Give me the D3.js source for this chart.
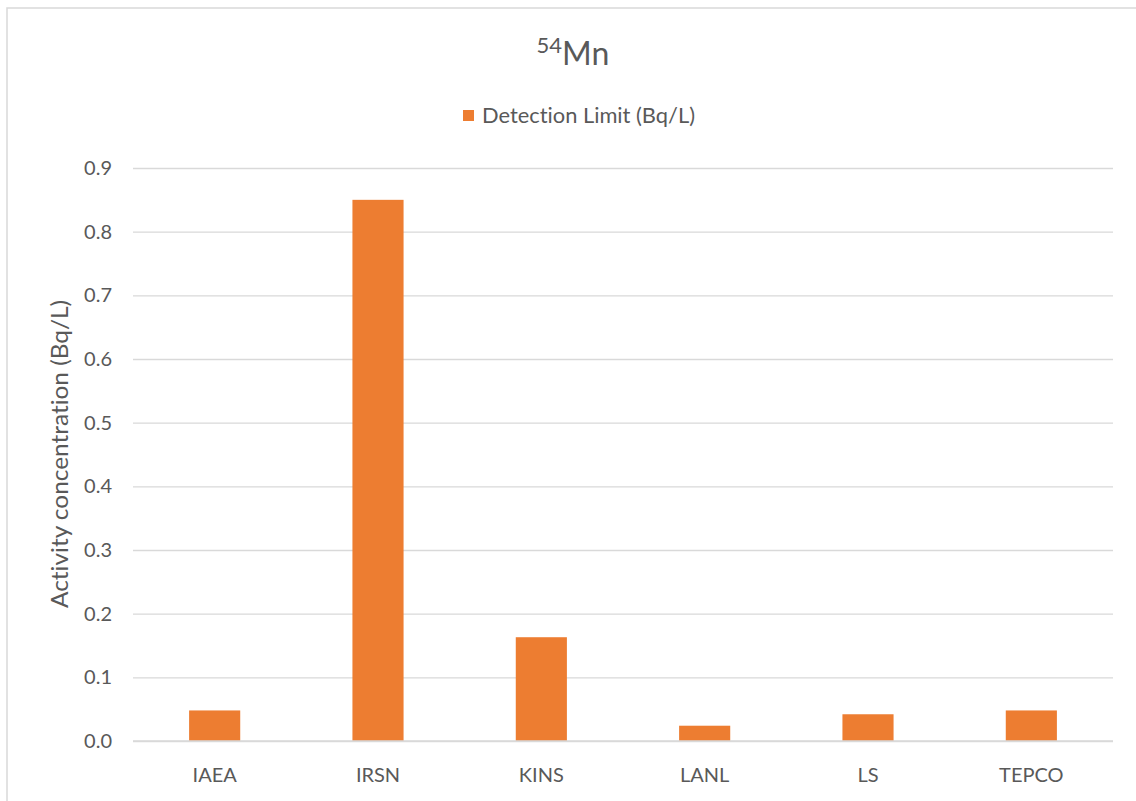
<!DOCTYPE html>
<html>
<head>
<meta charset="utf-8">
<script src="https://cdn.jsdelivr.net/npm/d3@7"></script>
<style>
  html, body { margin: 0; padding: 0; background: #fff; }
  svg { display: block; }
  text { font-family: Lato, "Open Sans", sans-serif; fill: #595959; font-variant-ligatures: none; }
</style>
</head>
<body>
<svg id="chart" width="1136" height="801"></svg>
<script>
// Detection limits of 54Mn by laboratory
const labs = ["IAEA", "IRSN", "KINS", "LANL", "LS", "TEPCO"];
const detectionLimit = [0.048, 0.85, 0.163, 0.024, 0.042, 0.048];
const yTicks = [0, 0.1, 0.2, 0.3, 0.4, 0.5, 0.6, 0.7, 0.8, 0.9];
const seriesName = "Detection Limit (Bq/L)";
const yTitle = "Activity concentration (Bq/L)";

const svg = d3.select("#chart");
const W = 1136, H = 801;
const plot = { left: 133, right: 1113, top: 168, bottom: 741 };
const labelSize = 20;

// Outer chart frame
svg.append("rect")
  .attr("x", 7).attr("y", 8)
  .attr("width", W + 10).attr("height", H + 10)
  .attr("fill", "#fff").attr("stroke", "#d9d9d9").attr("stroke-width", 1.5);

const x = d3.scaleBand().domain(labs).range([plot.left, plot.right])
  .paddingInner(0.687).paddingOuter(0.3435);
const y = d3.scaleLinear().domain([0, 0.9]).range([plot.bottom, plot.top]);

// Horizontal gridlines
svg.append("g")
  .attr("transform", `translate(${plot.left},0)`)
  .call(d3.axisLeft(y).tickValues(yTicks).tickSize(-(plot.right - plot.left)).tickFormat(""))
  .call(g => g.select(".domain").remove())
  .call(g => g.selectAll("line").attr("stroke", "#d9d9d9").attr("stroke-width", 1.3));

// Y tick labels
svg.append("g")
  .attr("transform", `translate(${plot.left - 21},0)`)
  .call(d3.axisLeft(y).tickValues(yTicks).tickSize(0).tickPadding(0).tickFormat(d3.format(".1f")))
  .call(g => g.select(".domain").remove())
  .call(g => g.selectAll("text")
    .attr("font-size", labelSize).attr("fill", "#595959")
    .style("font-family", "Lato, sans-serif"));

// Bars
svg.append("g").selectAll("rect")
  .data(labs.map((l, i) => ({ lab: l, v: detectionLimit[i] })))
  .join("rect")
  .attr("x", d => x(d.lab))
  .attr("width", x.bandwidth())
  .attr("y", d => y(d.v))
  .attr("height", d => y(0) - y(d.v))
  .attr("fill", "#ed7d31");

// Baseline
svg.append("line")
  .attr("x1", plot.left).attr("x2", plot.right)
  .attr("y1", y(0)).attr("y2", y(0))
  .attr("stroke", "#d9d9d9").attr("stroke-width", 1.3);

// X category labels
svg.append("g")
  .attr("transform", `translate(0,${plot.bottom + 27})`)
  .call(d3.axisBottom(x).tickSize(0).tickPadding(0))
  .call(g => g.select(".domain").remove())
  .call(g => g.selectAll("text")
    .attr("font-size", labelSize).attr("fill", "#595959")
    .style("font-family", "Lato, sans-serif"));

// Title with superscript mass number
const title = svg.append("text")
  .attr("x", 573).attr("y", 65)
  .attr("text-anchor", "middle")
  .attr("font-size", 32);
title.append("tspan").attr("font-size", 22).attr("dy", -12).text("54");
title.append("tspan").attr("dy", 12).text("Mn");

// Legend
svg.append("rect")
  .attr("x", 463).attr("y", 110).attr("width", 11).attr("height", 11)
  .attr("fill", "#ed7d31");
svg.append("text")
  .attr("x", 482).attr("y", 123)
  .attr("font-size", 21.5)
  .attr("textLength", 213)
  .attr("lengthAdjust", "spacingAndGlyphs")
  .text(seriesName);

// Y axis title
svg.append("text")
  .attr("transform", `translate(68,${(300 + 608) / 2}) rotate(-90)`)
  .attr("text-anchor", "middle")
  .attr("font-size", 23)
  .attr("textLength", 308)
  .attr("lengthAdjust", "spacingAndGlyphs")
  .text(yTitle);
</script>
</body>
</html>
